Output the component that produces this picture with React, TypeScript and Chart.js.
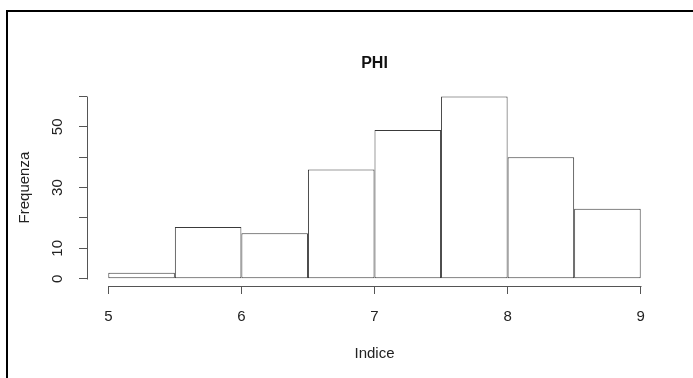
import React, { useEffect, useRef } from 'react';
import { Chart, registerables } from 'chart.js';

Chart.register(...registerables);

// Histogram of the PHI index: bins of width 0.5 starting at each value below
const binStarts = [5, 5.5, 6, 6.5, 7, 7.5, 8, 8.5];
const binWidth = 0.5;
const counts = [2, 17, 15, 36, 49, 60, 40, 23];

const xTicks = [5, 6, 7, 8, 9];
const yTicks = [0, 10, 20, 30, 40, 50, 60];
const yTickLabels = ['0', '10', '', '30', '', '50', ''];

const titleText = 'PHI';
const xTitle = 'Indice';
const yTitle = 'Frequenza';

const FONT = "'Liberation Sans', Arial, Helvetica, sans-serif";
const AXIS_COLOR = '#555555';
const BAR_BORDER = '#3a3a3a';
const TEXT_COLOR = '#222222';

// R-style axes: lines only span the first to last tick, y labels parallel to the axis
const baseAxesPlugin = {
  id: 'baseAxes',
  afterDraw(chart: any) {
    const { ctx, chartArea } = chart;
    const xs = chart.scales.x;
    const ys = chart.scales.y;
    ctx.save();
    ctx.strokeStyle = AXIS_COLOR;
    ctx.lineWidth = 1;
    const yAxisX = Math.round(chartArea.left) + 0.5;
    const xAxisY = Math.round(chartArea.bottom) + 0.5;
    ctx.beginPath();
    ctx.moveTo(Math.round(xs.getPixelForValue(xTicks[0])) + 0.5, xAxisY);
    ctx.lineTo(Math.round(xs.getPixelForValue(xTicks[xTicks.length - 1])) + 0.5, xAxisY);
    ctx.moveTo(yAxisX, Math.round(ys.getPixelForValue(yTicks[0])) + 0.5);
    ctx.lineTo(yAxisX, Math.round(ys.getPixelForValue(yTicks[yTicks.length - 1])) + 0.5);
    ctx.stroke();

    ctx.fillStyle = TEXT_COLOR;
    ctx.font = `15px ${FONT}`;
    ctx.textAlign = 'center';
    ctx.textBaseline = 'middle';
    yTicks.forEach((v, i) => {
      const label = yTickLabels[i];
      if (!label) return;
      const py = ys.getPixelForValue(v);
      ctx.save();
      ctx.translate(chartArea.left - 29, py);
      ctx.rotate(-Math.PI / 2);
      ctx.fillText(label, 0, 0);
      ctx.restore();
    });
    ctx.restore();
  },
};

export default function App() {
  const canvasRef = useRef<HTMLCanvasElement | null>(null);

  useEffect(() => {
    if (!canvasRef.current) return;
    const chart = new Chart(canvasRef.current, {
      type: 'bar',
      data: {
        datasets: [
          {
            label: titleText,
            data: binStarts.map((s, i) => ({ x: s + binWidth / 2, y: counts[i] })),
            backgroundColor: '#ffffff',
            borderColor: BAR_BORDER,
            borderWidth: 1,
            borderSkipped: false,
            inflateAmount: 0,
            categoryPercentage: 1,
            barPercentage: 1,
          } as any,
        ],
      },
      plugins: [baseAxesPlugin],
      options: {
        animation: false,
        responsive: true,
        maintainAspectRatio: false,
        layout: { padding: { left: 0, right: 31, top: 0, bottom: 0 } },
        plugins: {
          legend: { display: false },
          tooltip: { enabled: false },
          title: {
            display: true,
            fullSize: false,
            text: titleText,
            color: '#111111',
            font: { family: FONT, size: 16, weight: 'bold' },
            padding: { top: 54, bottom: 16 },
          },
        },
        scales: {
          x: {
            type: 'linear',
            offset: false,
            min: 4.84,
            max: 9.16,
            afterBuildTicks: (scale: any) => {
              scale.ticks = xTicks.map((v) => ({ value: v }));
            },
            afterFit: (scale: any) => {
              scale.height = 92;
            },
            grid: {
              offset: false,
              drawOnChartArea: false,
              drawTicks: true,
              tickLength: 8,
              color: AXIS_COLOR,
            },
            border: { display: false },
            ticks: {
              autoSkip: false,
              maxRotation: 0,
              padding: 14,
              color: TEXT_COLOR,
              font: { family: FONT, size: 15 },
              callback: (v: any) => String(v),
            },
            title: {
              display: true,
              text: xTitle,
              color: TEXT_COLOR,
              font: { family: FONT, size: 15 },
              padding: { top: 0, bottom: 15 },
            },
          },
          y: {
            type: 'linear',
            min: -2.4,
            max: 62.4,
            afterBuildTicks: (scale: any) => {
              scale.ticks = yTicks.map((v) => ({ value: v }));
            },
            afterFit: (scale: any) => {
              scale.width = 87;
            },
            grid: {
              offset: false,
              drawOnChartArea: false,
              drawTicks: true,
              tickLength: 8,
              color: AXIS_COLOR,
            },
            border: { display: false },
            ticks: { display: false },
            title: {
              display: true,
              text: yTitle,
              color: TEXT_COLOR,
              font: { family: FONT, size: 15 },
              padding: { top: 16, bottom: 0 },
            },
          },
        },
      },
    });
    return () => chart.destroy();
  }, []);

  return (
    <>
      <div
        style={{
          position: 'fixed',
          left: 0,
          top: 0,
          width: 693,
          height: 378,
          background: '#ffffff',
        }}
      >
        <canvas ref={canvasRef} />
      </div>
      <div
        style={{
          position: 'fixed',
          left: 6,
          top: 10,
          width: 720,
          height: 400,
          borderTop: '2px solid #000',
          borderLeft: '2px solid #000',
          pointerEvents: 'none',
        }}
      />
    </>
  );
}
